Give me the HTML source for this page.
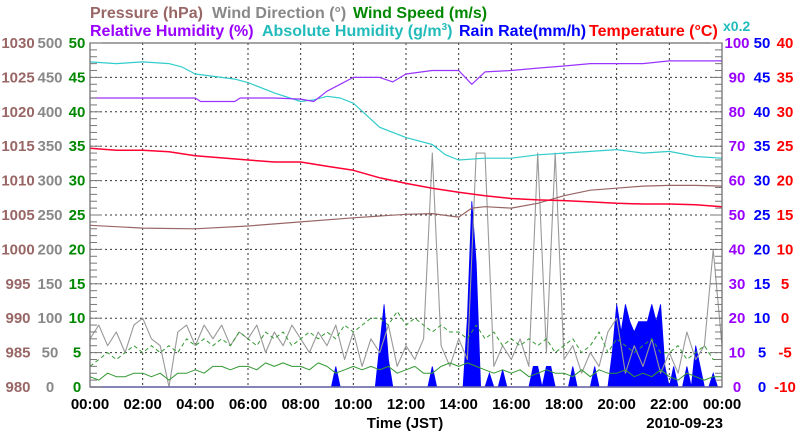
<!DOCTYPE html>
<html><head><meta charset="utf-8"><style>
body{margin:0;background:#fff;}
svg{display:block;font-family:"Liberation Sans",sans-serif;font-weight:bold;}
</style></head><body>
<svg id="chart" width="800" height="434" viewBox="0 0 800 434" xmlns="http://www.w3.org/2000/svg">
<g font-size="16">
<text x="90" y="18" fill="#996666">Pressure (hPa)</text>
<text x="212" y="18" fill="#888888">Wind Direction (°)</text>
<text x="353" y="18" fill="#008800">Wind Speed (m/s)</text>
<text x="90" y="36" fill="#9900ff">Relative Humidity (%)</text>
<text x="262" y="36" fill="#22bbbb">Absolute Humidity (g/m<tspan font-size="10" dy="-6">3</tspan><tspan dy="6">)</tspan></text>
<text x="459" y="36" fill="#0000ff">Rain Rate(mm/h)</text>
<text x="589" y="36" fill="#ff0000">Temperature (°C)</text>
<text x="723" y="31" fill="#22bbbb" font-size="14">x0.2</text>
</g>
<g id="grid"></g>
<g id="marks"></g>
<g id="axes"></g>
<text x="405" y="428" text-anchor="middle" font-size="15" fill="#000">Time (JST)</text>
<text x="723" y="428" text-anchor="end" font-size="15" fill="#000">2010-09-23</text>
</svg>
<script>
const xTickLabels=["00:00","02:00","04:00","06:00","08:00","10:00","12:00","14:00","16:00","18:00","20:00","22:00","00:00"];
const pressureTicks=[980,985,990,995,1000,1005,1010,1015,1020,1025,1030];
const dirTicks=[0,50,100,150,200,250,300,350,400,450,500];
const speedTicks=[0,5,10,15,20,25,30,35,40,45,50];
const rhTicks=[0,10,20,30,40,50,60,70,80,90,100];
const rainTicks=[0,5,10,15,20,25,30,35,40,45,50];
const tempTicks=[-10,-5,0,5,10,15,20,25,30,35,40];

const absHours=[0,1,2,3,3.5,4,5,5.5,6,7,8,8.5,9,9.5,10,10.5,11,12,13,13.5,14,15,16,17,18,19,20,21,22,23,24];
const absHum=[18.9,18.8,18.9,18.8,18.6,18.2,18.0,17.9,17.7,17.1,16.6,16.7,16.9,16.8,16.5,15.8,15.1,14.5,14.1,13.5,13.2,13.3,13.3,13.5,13.6,13.7,13.8,13.6,13.7,13.4,13.3];
const rhHours=[0,4,4.2,5.5,5.7,7,8,8.5,9,9.5,10,11,11.5,12,13,14,14.5,15,16,17,18,19,20,21,22,23,24];
const rh=[84,84,83,83,84,84,83.7,83,86,88,90,90,88.7,91,92,92,88,91.6,92,92.7,93.3,94,94,94,94.8,94.8,94.8];
const presHours=[0,2,4,6,8,10,12,13,14,14.5,15,16,17,18,19,20,21,22,23,24];
const pressure=[1003.5,1003.1,1003,1003.4,1004,1004.6,1005.1,1005.2,1004.7,1006,1006.2,1006,1006.7,1007.8,1008.6,1008.9,1009.2,1009.3,1009.3,1009.2];
const tempHours=[0,1,2,3,4,5,6,7,8,9,10,11,12,13,14,15,16,17,18,19,20,21,22,23,24];
const temp=[24.7,24.4,24.4,24.2,23.6,23.3,23,22.7,22.7,22.1,21.5,20.4,19.6,18.9,18.3,17.8,17.4,17.2,17.1,16.9,16.7,16.6,16.6,16.5,16.2];
// 20-minute samples
const windDir=[70,90,60,80,50,90,100,70,60,0,80,90,60,90,70,90,60,80,70,90,50,80,60,90,70,50,80,60,90,40,80,30,70,50,90,30,60,40,70,340,60,30,70,40,340,340,30,60,40,70,30,340,50,340,40,60,20,50,30,80,100,20,60,30,70,20,50,20,80,40,60,200,60];
const windAvg=[1.5,1,2,1.5,1.5,2,2,1.5,2,1,2,2,2.5,2,3,3,2.5,3,3,2.5,3.5,3,3.5,3,3,2.5,3.5,3,2,2.5,3,2.5,3,2.5,3,2,2.5,3,2,2,3,3.5,3,3.5,3,2.5,2,2.5,2,2.5,1.5,2,2.5,2,2,1.5,2.5,1.5,2.5,2,2,2.5,1.5,2,1.5,2.5,1.5,1,2,1.5,1,1.5,1.5];
const windGust=[3,4,5,4,5,6,5,6,5,6,5,7,6,7,6,7,6,8,7,6,8,7,8,6,7,8,7,8,7,9,8,9,10,10,9,11,9,10,9,8,9,8,8,7,9,7,8,6,7,6,7,6,7,5,6,7,5,6,8,5,7,6,5,6,7,5,5,6,4,5,6,4,4];
// 10-minute samples
const rain=[0,0,0,0,0,0, 0,0,0,0,0,0, 0,0,0,0,0,0, 0,0,0,0,0,0, 0,0,0,0,0,0, 0,0,0,0,0,0, 0,0,0,0,0,0, 0,0,0,0,0,0, 0,0,0,0,0,0,
0,0,3,0,0,0, 0,0,0,0,0,0, 6,12,4,0,0,0, 0,0,0,0,0,0, 3,0,0,0,0,0, 0,0,10,27,18,0, 0,2,0,0,2.5,0, 0,0,0,0,0,3, 3,0,3,3,0,0, 0,0,3,0,0,0, 0,3,0,0,0,5,
12,8,12,9.5,8,9.5, 9.5,9.5,12,9.5,12,3, 0,3,0,0,3,0, 6,3,0,0,2,0, 0];

const X0=90,X1=722,Y0=387,Y1=43;
const xs=h=>X0+h*(X1-X0)/24;
const yU=v=>Y0-v*(Y0-Y1)/50;
const NS="http://www.w3.org/2000/svg";
function mk(tag,parent,attrs){const e=document.createElementNS(NS,tag);for(const k in attrs)e.setAttribute(k,attrs[k]);parent.appendChild(e);return e;}
const grid=document.getElementById('grid'),marks=document.getElementById('marks'),axes=document.getElementById('axes');

for(let i=1;i<12;i++){const x=xs(i*2);const l=mk('line',grid,{x1:x,x2:x,y1:Y1,y2:Y0,stroke:'#333','stroke-width':1,'stroke-dasharray':'2,3'});

}
for(let i=1;i<10;i++){const y=yU(i*5);const l=mk('line',grid,{x1:X0,x2:X1,y1:y,y2:y,stroke:'#333','stroke-width':1,'stroke-dasharray':'2,3'});

}

function line(hours,vals,yf,color,w,name,dash){
 const d=vals.map((v,i)=>(i?'L':'M')+xs(hours[i]).toFixed(1)+','+yf(v).toFixed(1)).join('');
 const p=mk('path',marks,{d:d,fill:'none',stroke:color,'stroke-width':w,'stroke-linejoin':'round'});
 if(dash)p.setAttribute('stroke-dasharray',dash);
 
 
}
const h10=rain.map((v,i)=>i/6), h20=windDir.map((v,i)=>i/3);
{let d='M'+xs(0)+','+Y0;rain.forEach((v,i)=>{d+='L'+xs(h10[i]).toFixed(1)+','+yU(v).toFixed(1);});d+='L'+xs(24)+','+Y0+'Z';
const p=mk('path',marks,{d:d,fill:'#0000ff',stroke:'#0000ff','stroke-width':0.8});

}
line(h20,windDir,v=>yU(v/10),'#999999',1.1,'wind-direction-line');
line(h20,windGust,yU,'#339933',1,'wind-gust-line','4,3');
line(h20,windAvg,yU,'#339933',1,'wind-speed-line');
line(presHours,pressure,v=>yU(v-980),'#996666',1.2,'pressure-line');
line(tempHours,temp,v=>yU(v+10),'#ff0033',1.5,'temperature-line');
line(absHours,absHum,v=>yU(v*5/2),'#33cccc',1.2,'absolute-humidity-line');
line(rhHours,rh,v=>yU(v/2),'#9933ff',1.2,'relative-humidity-line');

{const r=mk('rect',axes,{x:X0,y:Y1,width:X1-X0,height:Y0-Y1,fill:'none',stroke:'#666','stroke-width':1.2});


const b=mk('line',axes,{x1:X0,x2:X1,y1:Y0,y2:Y0,stroke:'#6666aa','stroke-width':1.5});

}
for(let i=0;i<=50;i++){const y=yU(i);const len=i%5===0?12:7;
 const a=mk('line',axes,{x1:X0,x2:X0+len,y1:y,y2:y,stroke:'#777','stroke-width':1});
 
 
 const b=mk('line',axes,{x1:X1,x2:X1-len,y1:y,y2:y,stroke:'#777','stroke-width':1});
 
 }
function labels(arr,yf,x,color,name){arr.forEach(v=>{const t=mk('text',axes,{x:x,y:yf(v)+5,'text-anchor':'middle','font-size':15,fill:color});t.textContent=v;
 
 });}
labels(pressureTicks,v=>yU(v-980),18,'#996666','pressure-tick-label');
labels(dirTicks,v=>yU(v/10),50,'#888888','wind-direction-tick-label');
labels(speedTicks,yU,77,'#008800','wind-speed-tick-label');
labels(rhTicks,v=>yU(v/2),737,'#9900ff','humidity-tick-label');
labels(rainTicks,yU,762,'#0000ff','rain-tick-label');
labels(tempTicks,v=>yU(v+10),785,'#ff0000','temperature-tick-label');
xTickLabels.forEach((s,i)=>{const t=mk('text',axes,{x:xs(i*2),y:409,'text-anchor':'middle','font-size':15,fill:'#000'});t.textContent=s;
 
 });
</script>
</body></html>
